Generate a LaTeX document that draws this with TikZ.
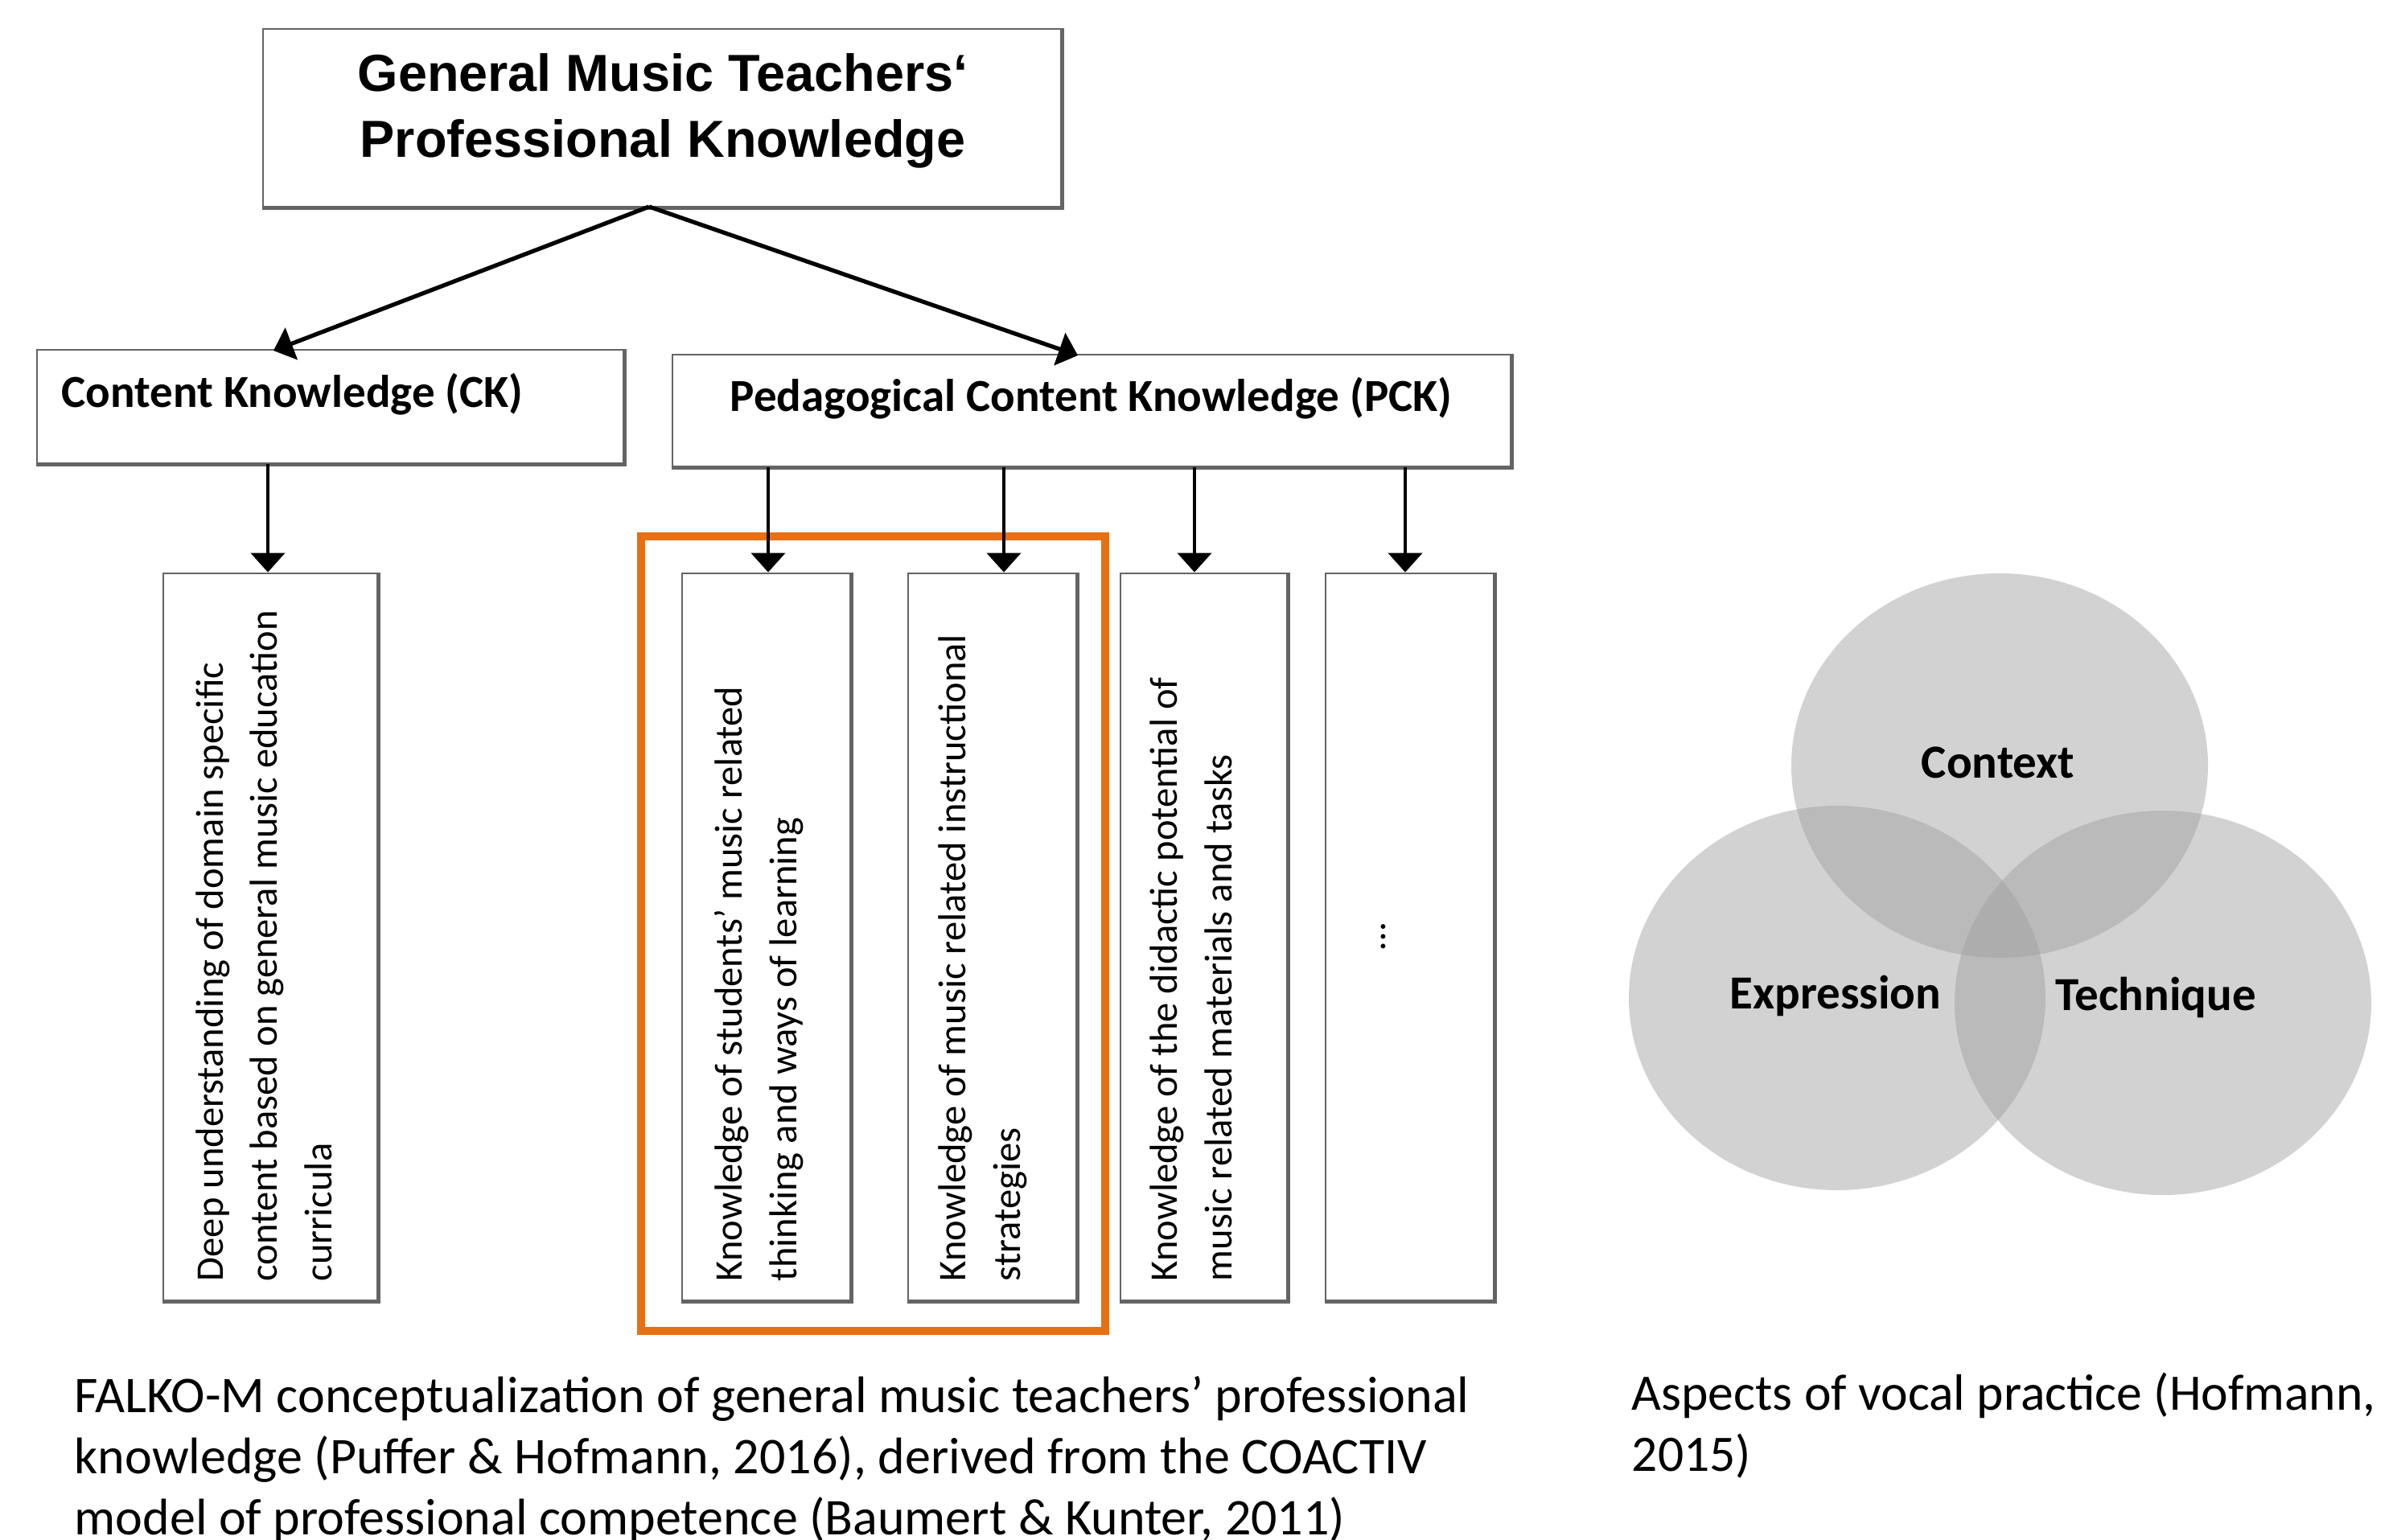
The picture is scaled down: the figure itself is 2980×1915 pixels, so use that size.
\documentclass[tikz,border=0pt]{standalone}
\usepackage{fontspec}
\setmainfont{Carlito}
\newfontfamily\titlefont{Liberation Sans}
\usetikzlibrary{arrows.meta,fit}
\definecolor{boxgray}{RGB}{100,100,100}
\definecolor{hlorange}{RGB}{232,112,20}
\definecolor{venngray}{RGB}{158,158,158}
\begin{document}
\begin{tikzpicture}[x=0.25pt,y=-0.25pt,
  kbox/.style={draw=boxgray,line width=0.7pt,fill=white,inner sep=0pt},
  kedge/.style={draw=boxgray,line width=1.4pt},
  karr/.style={line width=1.1pt,-{Triangle[width=10.5pt,length=6pt]}},
  vtext/.style={rotate=90,anchor=base west,align=left,inner sep=0pt,font=\fontsize{12.15pt}{16.8pt}\selectfont},
  headtext/.style={anchor=base west,inner sep=0pt,font=\bfseries\fontsize{14.25pt}{16pt}\selectfont},
  vennfill/.style={fill=venngray,fill opacity=0.455},
  vlabel/.style={anchor=base,inner sep=0pt,font=\bfseries\fontsize{14.75pt}{17pt}\selectfont},
  captext/.style={anchor=base west,align=left,inner sep=0pt,font=\fontsize{16pt}{19pt}\selectfont}]

\fill[white] (0,0) rectangle (2980,1915);
\useasboundingbox (0,0) rectangle (2980,1915);

% highlight frame
\node[draw=hlorange,line width=2.5pt,inner sep=0pt,fit={(797,667) (1374,1655)}] (hl) {};

% boxes
\node[kbox,fit={(327,36) (1319,257)}] (top) {};
\node[kbox,fit={(46,435) (775,576)}] (ck) {};
\node[kbox,fit={(836,441) (1878,580)}] (pck) {};
\node[kbox,fit={(203,713) (469,1617)}] (b1) {};
\node[kbox,fit={(848,713) (1057,1617)}] (b2) {};
\node[kbox,fit={(1129,713) (1338,1617)}] (b3) {};
\node[kbox,fit={(1393,713) (1600,1617)}] (b4) {};
\node[kbox,fit={(1648,713) (1857,1617)}] (b5) {};
\foreach \b in {top,ck,pck,b1,b2,b3,b4,b5}
  \draw[kedge] (\b.south west) -- (\b.south east) -- (\b.north east);

% texts
\node[align=center,inner sep=0pt,font=\titlefont\bfseries\fontsize{16.2pt}{20.5pt}\selectfont] (toptext) at (824,138)
  {General Music Teachers‘\\Professional Knowledge};
\node[headtext] (cktext) at (76,506) {Content Knowledge (CK)};
\node[headtext] (pcktext) at (907,512) {Pedagogical Content Knowledge (PCK)};

% anchor = baseline of the last line
\node[vtext] (t1) at (412,1594) {Deep understanding of domain specific\\content based on general music education\\curricula};
\node[vtext] (t2) at (990,1594) {Knowledge of students’ music related\\thinking and ways of learning};
\node[vtext] (t3) at (1268,1594) {Knowledge of music related instructional\\strategies};
\node[vtext] (t4) at (1531,1594) {Knowledge of the didactic potential of\\music related materials and tasks};
\node[vtext,anchor=base] (t5) at (1722,1165) {…};

% connectors
\coordinate (apex) at (807,257);
\coordinate (ckin) at (340,436);
\coordinate (pckin) at (1340,442);
\draw[karr,line width=1.3pt] (apex) -- (ckin);
\draw[karr,line width=1.3pt] (apex) -- (pckin);
\coordinate (a1) at (333,0);
\coordinate (a2) at (955,0);
\coordinate (a3) at (1248,0);
\coordinate (a4) at (1485,0);
\coordinate (a5) at (1747,0);
\draw[karr] (ck.south -| a1) -- (b1.north -| a1);
\draw[karr] (pck.south -| a2) -- (b2.north -| a2);
\draw[karr] (pck.south -| a3) -- (b3.north -| a3);
\draw[karr] (pck.south -| a4) -- (b4.north -| a4);
\draw[karr] (pck.south -| a5) -- (b5.north -| a5);

% Venn
\fill[vennfill] (2486,952) ellipse [x radius=64.75pt, y radius=59.75pt];
\fill[vennfill] (2284,1241) ellipse [x radius=64.75pt, y radius=59.75pt];
\fill[vennfill] (2689,1247) ellipse [x radius=64.75pt, y radius=59.75pt];
\node[vlabel] (context) at (2484,967) {Context};
\node[vlabel] (expression) at (2282,1254) {Expression};
\node[vlabel] (technique) at (2680,1256) {Technique};

% captions (anchor = baseline of the last line)
\node[captext] (cap1) at (92,1908) {FALKO-M conceptualization of general music teachers’ professional\\knowledge (Puffer \& Hofmann, 2016), derived from the COACTIV\\model of professional competence (Baumert \& Kunter, 2011)};
\node[captext,font=\fontsize{15.9pt}{19pt}\selectfont] (cap2) at (2028,1829) {Aspects of vocal practice (Hofmann,\\2015)};
\end{tikzpicture}
\end{document}
